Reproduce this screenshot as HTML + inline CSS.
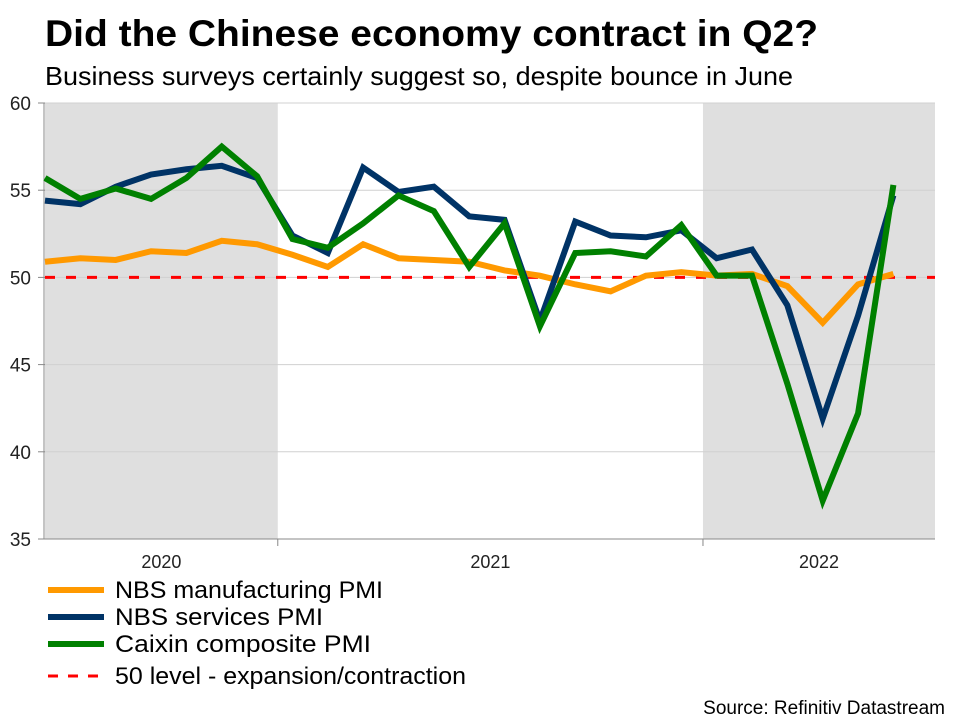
<!DOCTYPE html>
<html><head><meta charset="utf-8"><style>
body{margin:0;background:#fff;font-family:"Liberation Sans",sans-serif;}
#wrap{position:relative;width:960px;height:720px;overflow:hidden;}
</style></head><body>
<div id="wrap">
<svg id="svg" width="960" height="720" xmlns="http://www.w3.org/2000/svg">
<text x="45" y="46" font-size="37" font-weight="bold" fill="#000" textLength="773" lengthAdjust="spacingAndGlyphs">Did the Chinese economy contract in Q2?</text>
<text x="45" y="85" font-size="26" fill="#000" textLength="748" lengthAdjust="spacingAndGlyphs">Business surveys certainly suggest so, despite bounce in June</text>
<g id="plot"></g>
<text x="945" y="714" font-size="19" text-anchor="end" fill="#000">Source: Refinitiv Datastream</text>
</svg>
</div>
<script>
const categories=["Jun20","Jul20","Aug20","Sep20","Oct20","Nov20","Dec20","Jan21","Feb21","Mar21","Apr21","May21","Jun21","Jul21","Aug21","Sep21","Oct21","Nov21","Dec21","Jan22","Feb22","Mar22","Apr22","May22","Jun22"];
const nbsManufacturing=[50.9,51.1,51.0,51.5,51.4,52.1,51.9,51.3,50.6,51.9,51.1,51.0,50.9,50.4,50.1,49.6,49.2,50.1,50.3,50.1,50.2,49.5,47.4,49.6,50.2];
const nbsServices=[54.4,54.2,55.2,55.9,56.2,56.4,55.7,52.4,51.4,56.3,54.9,55.2,53.5,53.3,47.5,53.2,52.4,52.3,52.7,51.1,51.6,48.4,41.9,47.8,54.7];
const caixinComposite=[55.7,54.5,55.1,54.5,55.7,57.5,55.8,52.2,51.7,53.1,54.7,53.8,50.6,53.1,47.2,51.4,51.5,51.2,53.0,50.1,50.1,43.9,37.2,42.2,55.3];
const yTicks=[35,40,45,50,55,60];
const yearLabels=["2020","2021","2022"];
const refLevel=50;

const NS="http://www.w3.org/2000/svg";
const plot=document.getElementById('plot');
const X0=45,DX=35.35,Y60=103,Y35=539,XR=935;
function x(i){return X0+i*DX;}
function y(v){return Y35-(v-35)/25*(Y35-Y60);}
function mk(t,a,parent){const e=document.createElementNS(NS,t);for(const k in a)e.setAttribute(k,a[k]);(parent||plot).appendChild(e);return e;}
const b1=(x(6)+x(7))/2+3, b2=(x(18)+x(19))/2+4;
let r=mk('rect',{x:X0,y:Y60,width:b1-X0,height:Y35-Y60,fill:'#dfdfdf'});


r=mk('rect',{x:b2,y:Y60,width:XR-b2,height:Y35-Y60,fill:'#dfdfdf'});


yTicks.forEach(v=>{
  if(v>35){const g=mk('line',{x1:X0,x2:XR,y1:y(v),y2:y(v),stroke:'#d0d0d0','stroke-width':1});
  
  }
  const tk=mk('line',{x1:38,x2:X0,y1:y(v),y2:y(v),stroke:'#888','stroke-width':1});
  
  
  const t=mk('text',{x:31,y:y(v)+7,'font-size':19,'text-anchor':'end',fill:'#222'});
  t.textContent=v;
  
  
});
let ax=mk('line',{x1:X0-1,x2:X0-1,y1:Y60,y2:Y35,stroke:'#888','stroke-width':1});


ax=mk('line',{x1:X0-1,x2:XR,y1:Y35,y2:Y35,stroke:'#888','stroke-width':1});


[b1,b2].forEach(bx=>{const tk=mk('line',{x1:bx,x2:bx,y1:Y35,y2:Y35+7,stroke:'#888'});

});
const mids=[(X0+b1)/2,(b1+b2)/2,(b2+XR)/2];
yearLabels.forEach((l,i)=>{const t=mk('text',{x:mids[i],y:568,'font-size':18,'text-anchor':'middle',fill:'#222'});
t.textContent=l;

});
let rl=mk('line',{x1:X0,x2:XR,y1:y(refLevel),y2:y(refLevel),stroke:'#ff0000','stroke-width':3,'stroke-dasharray':'10,11'});


function series(d,c,n){const p=mk('polyline',{points:d.map((v,i)=>x(i)+','+y(v)).join(' '),fill:'none',stroke:c,'stroke-width':6,'stroke-linejoin':'miter'});

}
series(nbsManufacturing,'#ff9900','line-nbs-manufacturing');
series(nbsServices,'#003366','line-nbs-services');
series(caixinComposite,'#008000','line-caixin-composite');
const leg=[['NBS manufacturing PMI','#ff9900',590,false,268],['NBS services PMI','#003366',617,false,208],['Caixin composite PMI','#008000',644,false,256],['50 level - expansion/contraction','#ff0000',676,true,351]];
leg.forEach(L=>{const g=mk('g',{});


mk('line',L[3]?{x1:48,x2:104,y1:L[2],y2:L[2],stroke:L[1],'stroke-width':3,'stroke-dasharray':'10,10'}:{x1:48,x2:104,y1:L[2],y2:L[2],stroke:L[1],'stroke-width':6},g);
const t=mk('text',{x:115,y:L[2]+8,'font-size':24,fill:'#000',textLength:L[4],lengthAdjust:'spacingAndGlyphs'},g);t.textContent=L[0];});
</script>
</body></html>
